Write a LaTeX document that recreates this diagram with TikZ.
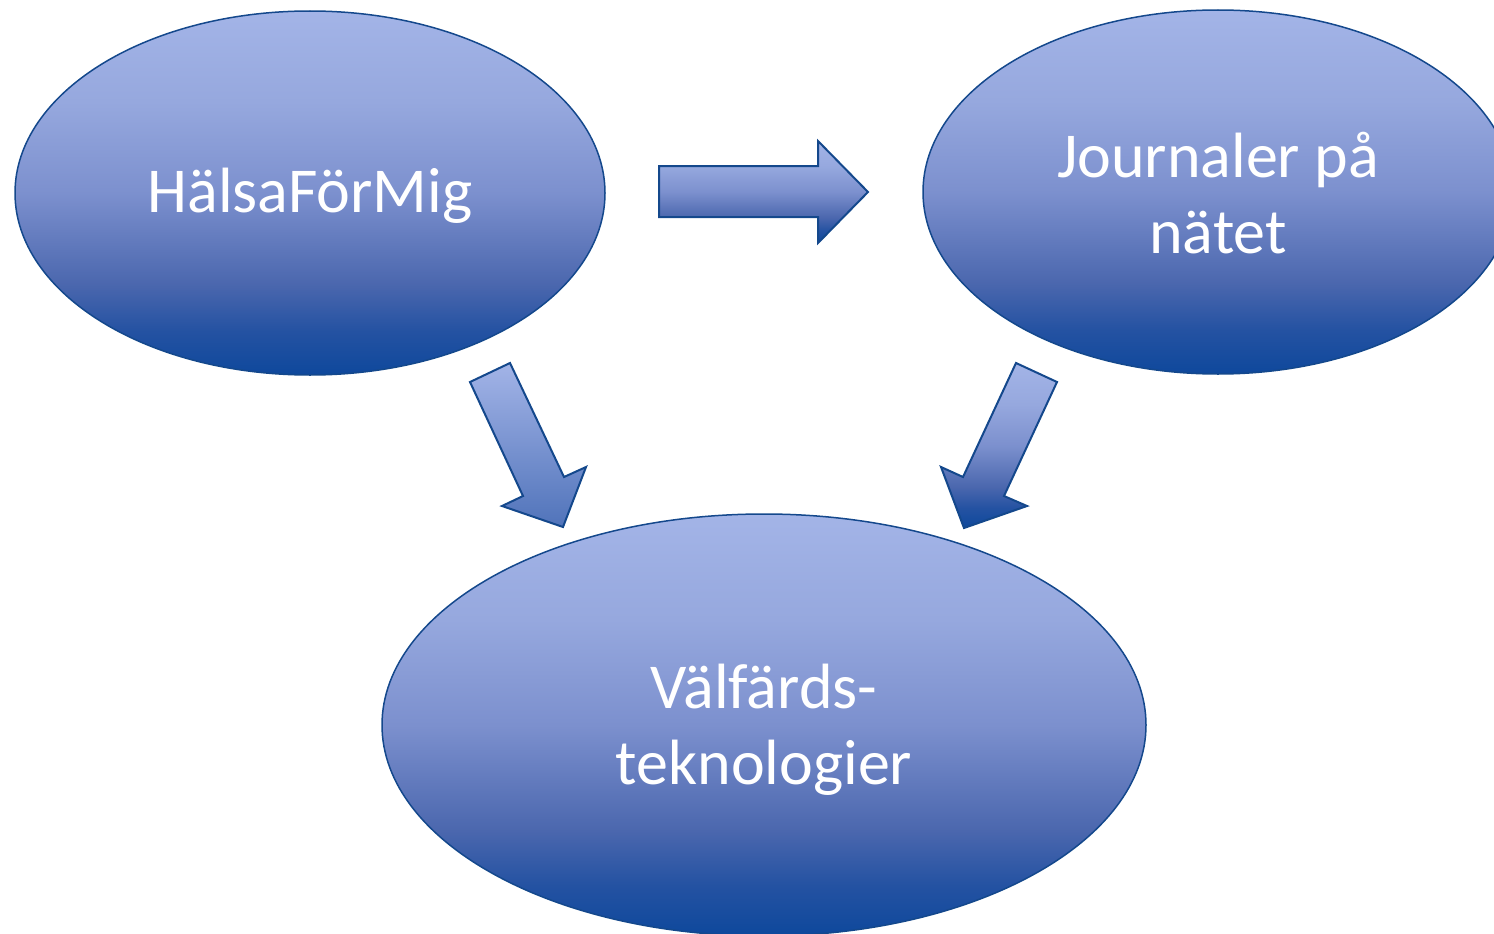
\documentclass[tikz,border=0pt]{standalone}
\usepackage{fontspec}
\setmainfont{Carlito}
\usetikzlibrary{shapes.geometric}
\definecolor{lt}{RGB}{163,180,231}
\definecolor{ltm}{RGB}{150,168,222}
\definecolor{md}{RGB}{124,144,206}
\definecolor{mdk}{RGB}{75,103,174}
\definecolor{dkm}{RGB}{36,82,162}
\definecolor{dk}{RGB}{14,72,156}
\definecolor{edgeblue}{RGB}{20,72,140}
\pgfdeclareverticalshading{ovalshade}{100bp}{color(0bp)=(dk); color(25bp)=(dk); color(31bp)=(dkm); color(37.5bp)=(mdk); color(50bp)=(md); color(62.5bp)=(ltm); color(75bp)=(lt); color(100bp)=(lt)}
\tikzset{
  oval/.style={ellipse, draw=edgeblue, line width=1.5pt, shading=ovalshade,
    text=white, align=center, font=\fontsize{64}{76}\selectfont, inner sep=0pt},
  blockarrow/.style={draw=edgeblue, line width=2pt, line join=miter}
}
\begin{document}
\begin{tikzpicture}[x=1pt,y=-1pt]
\useasboundingbox (0,0) rectangle (1494,934);
\clip (0,0) rectangle (1494,934);
\node[oval, minimum width=590pt, minimum height=364pt] (hfm) at (310,193) {};
\node[text=white, font=\fontsize{64}{76}\selectfont] (hfmt) at (310,196) {HälsaFörMig};
\node[oval, minimum width=590pt, minimum height=364pt] (jpn) at (1218,192) {};
\node[text=white, align=center, font=\fontsize{64}{76}\selectfont] (jpnt) at (1218,193) {Journaler på\\nätet};
\node[oval, minimum width=764pt, minimum height=422pt] (vt) at (764,725) {};
\node[text=white, align=center, font=\fontsize{64}{76}\selectfont] (vtt) at (764,730) {Välfärds-\\teknologier};
% right block arrow
\coordinate (ra1) at (659,166);
\coordinate (ra2) at (818,166);
\coordinate (ra3) at (818,141);
\coordinate (ra4) at (868,192);
\coordinate (ra5) at (818,243);
\coordinate (ra6) at (818,217);
\coordinate (ra7) at (659,217);
\draw[blockarrow, shading=ovalshade]
  (ra1) -- (ra2) -- (ra3) -- (ra4) -- (ra5) -- (ra6) -- (ra7) -- cycle;
% down-right block arrow
\coordinate (dr1) at (470,382);
\coordinate (dr2) at (510,363);
\coordinate (dr3) at (564,477);
\coordinate (dr4) at (586,467);
\coordinate (dr5) at (563,527);
\coordinate (dr6) at (502,506);
\coordinate (dr7) at (523,496);
\draw[blockarrow, top color=lt, middle color=lt!85!md, bottom color=md!60!dk]
  (dr1) -- (dr2) -- (dr3) -- (dr4) -- (dr5) -- (dr6) -- (dr7) -- cycle;
% down-left block arrow
\coordinate (dl1) at (1016,363);
\coordinate (dl2) at (1057,382);
\coordinate (dl3) at (1004,496);
\coordinate (dl4) at (1027,506);
\coordinate (dl5) at (964,528);
\coordinate (dl6) at (941,467);
\coordinate (dl7) at (963,477);
\draw[blockarrow, shading=ovalshade]
  (dl1) -- (dl2) -- (dl3) -- (dl4) -- (dl5) -- (dl6) -- (dl7) -- cycle;
\end{tikzpicture}
\end{document}
